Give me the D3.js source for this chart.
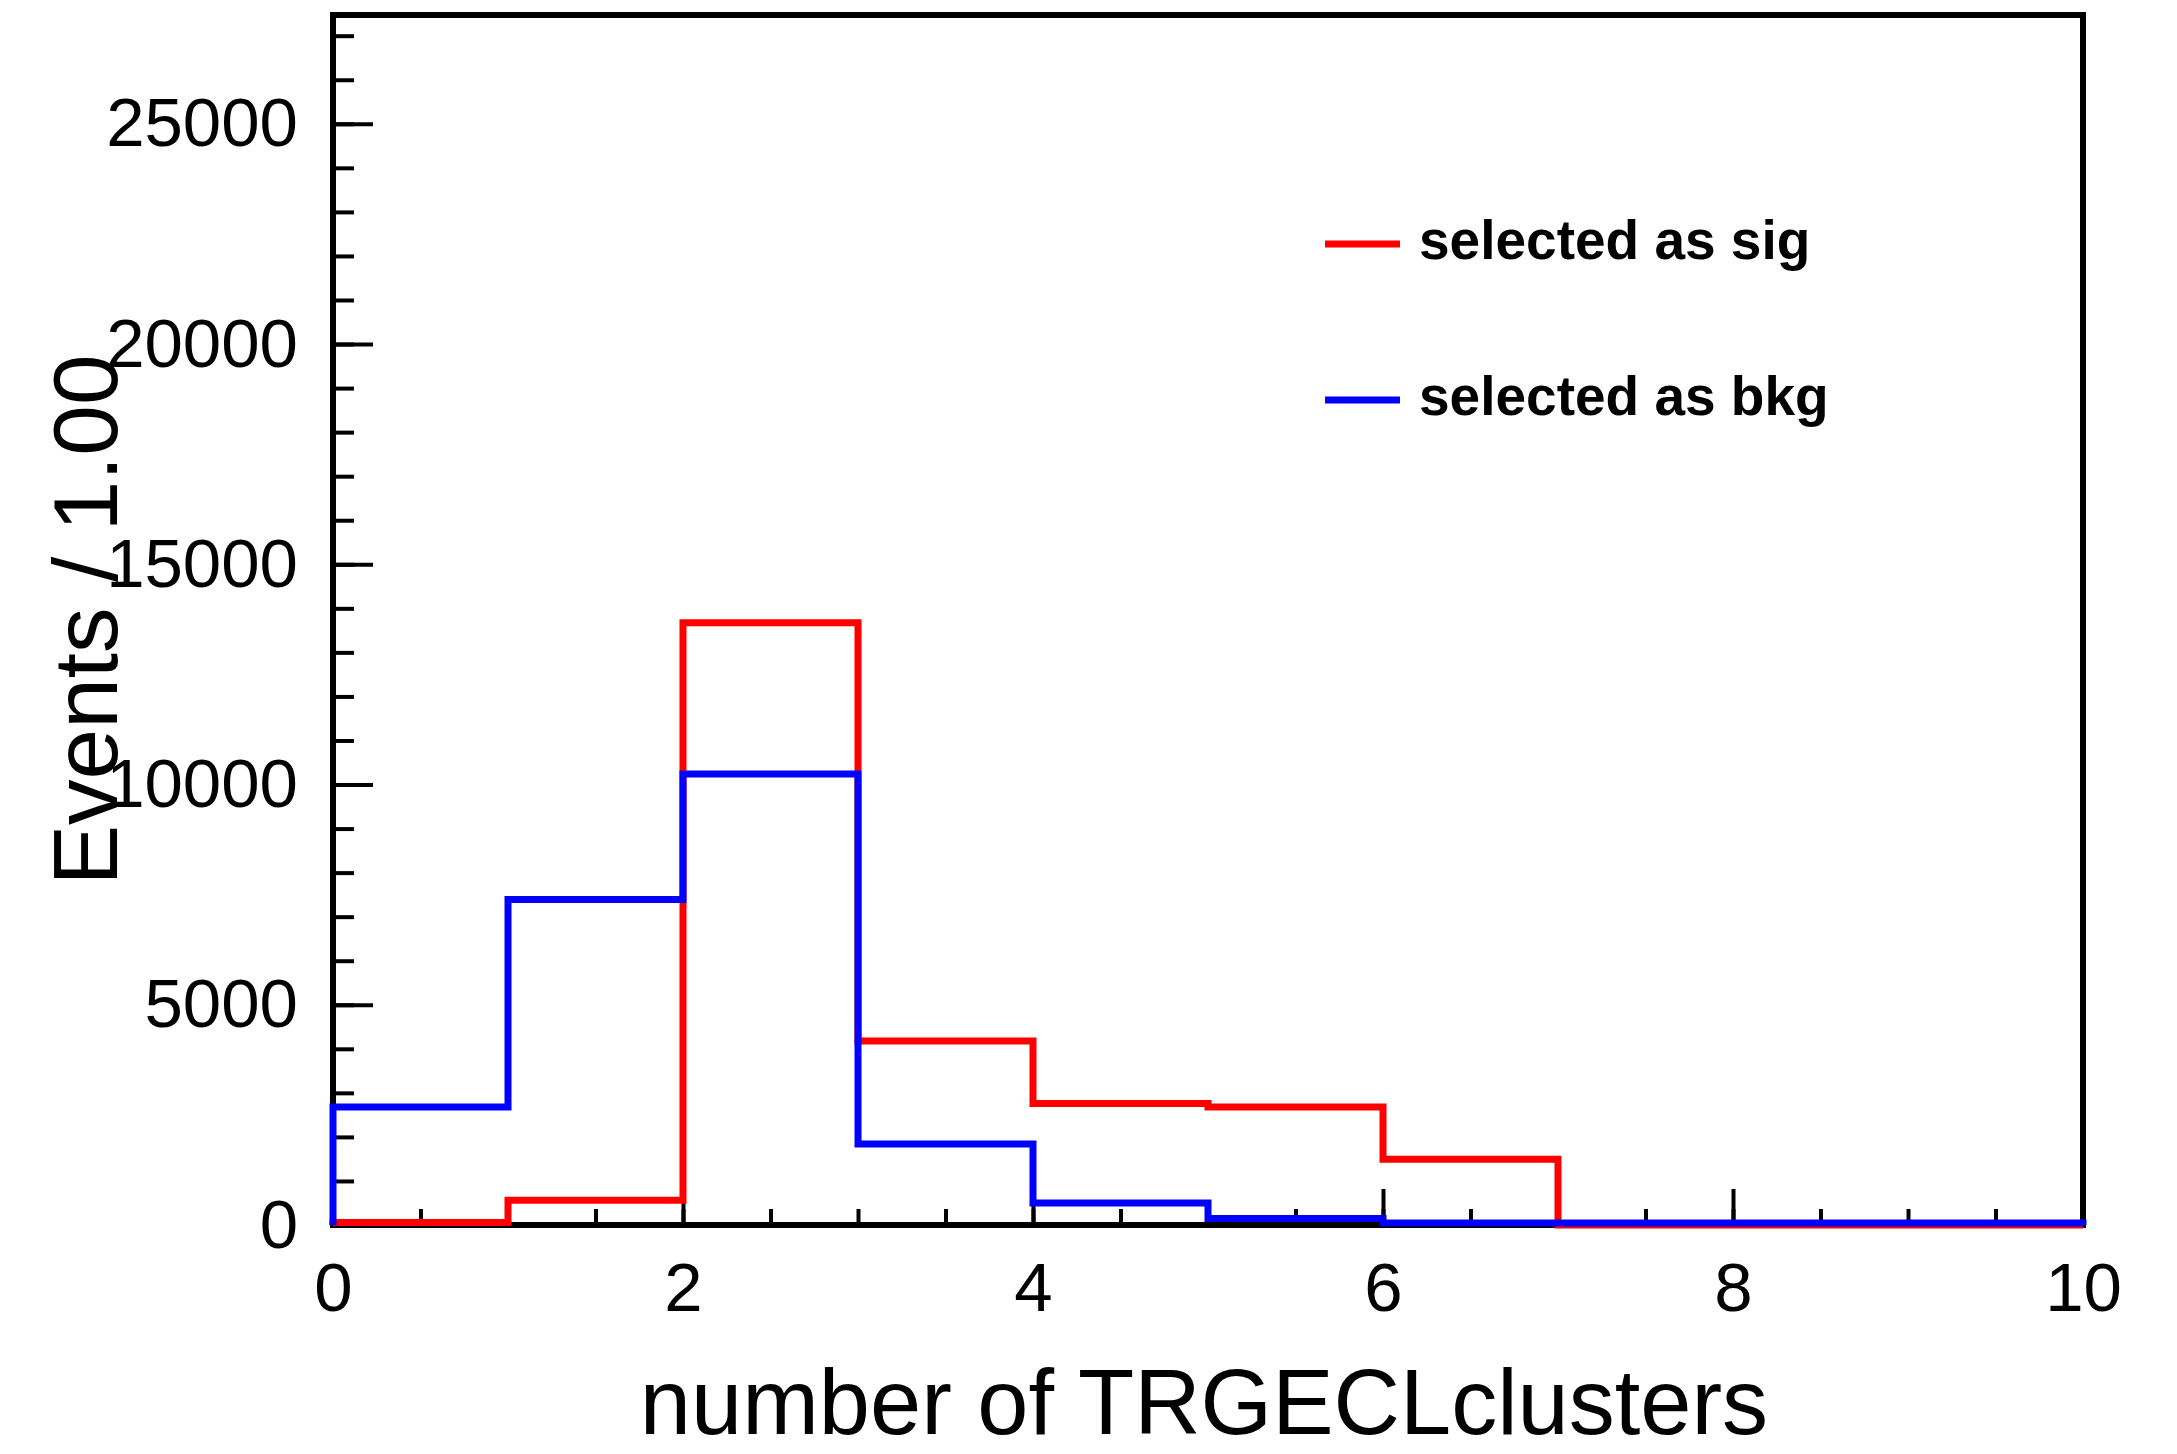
<!DOCTYPE html>
<html>
<head>
<meta charset="utf-8">
<script src="https://cdn.jsdelivr.net/npm/d3@7"></script>
<style>
  html, body { margin: 0; padding: 0; background: #fff; }
  svg { display: block; }
  text { font-family: "Liberation Sans", Arial, Helvetica, sans-serif; }
</style>
</head>
<body>
<svg id="chart" width="2177" height="1454"></svg>
<script>
// Bin edges of the histogram (unit-wide bins from 0 to 10)
const binEdges = [0, 1, 2, 3, 4, 5, 6, 7, 8, 9, 10];
// Events per bin, for each selection
const sigCounts = [55, 560, 13670, 4180, 2760, 2680, 1490, 0, 0, 0];
const bkgCounts = [2680, 7390, 10240, 1840, 500, 150, 45, 45, 45, 45];
// Axis ticks
const xMajorTicks = [0, 2, 4, 6, 8, 10];
const xMinorTicks = d3.range(0, 10.01, 0.5);
const yMajorTicks = [0, 5000, 10000, 15000, 20000, 25000];
const yMinorTicks = d3.range(0, 27001, 1000);
const legendLabels = ["selected as sig", "selected as bkg"];
const seriesColors = ["#ff0000", "#0000ff"];

const svg = d3.select("#chart");
const W = 2177, H = 1454;
const plot = { left: 333, right: 2083, top: 15, bottom: 1225 };

svg.append("rect").attr("width", W).attr("height", H).attr("fill", "#fff");

const x = d3.scaleLinear().domain([0, 10]).range([plot.left, plot.right]);
const y = d3.scaleLinear().domain([0, 27470]).range([plot.bottom, plot.top]);

// Minor ticks (inside the frame)
const xMinor = svg.append("g")
  .attr("transform", `translate(0,${plot.bottom})`)
  .call(d3.axisBottom(x).tickValues(xMinorTicks).tickSize(-16).tickFormat(""));
const yMinor = svg.append("g")
  .attr("transform", `translate(${plot.left},0)`)
  .call(d3.axisLeft(y).tickValues(yMinorTicks).tickSize(-21).tickFormat(""));

// Major ticks with labels
const xAxis = svg.append("g")
  .attr("transform", `translate(0,${plot.bottom})`)
  .call(d3.axisBottom(x).tickValues(xMajorTicks).tickSize(-36).tickPadding(37)
        .tickFormat(d3.format("d")));
const yAxis = svg.append("g")
  .attr("transform", `translate(${plot.left},0)`)
  .call(d3.axisLeft(y).tickValues(yMajorTicks).tickSize(-40).tickPadding(35)
        .tickFormat(d3.format("d")));

[xMinor, yMinor, xAxis, yAxis].forEach(g => {
  g.select(".domain").remove();
  g.selectAll(".tick line").attr("stroke", "#000").attr("stroke-width", 4);
});
[xAxis, yAxis].forEach(g => {
  g.selectAll(".tick text")
    .attr("fill", "#000")
    .style("font-size", "69px")
    .style("font-family", "'Liberation Sans', Arial, Helvetica, sans-serif");
});

// Frame
svg.append("rect")
  .attr("x", plot.left).attr("y", plot.top)
  .attr("width", plot.right - plot.left).attr("height", plot.bottom - plot.top)
  .attr("fill", "none").attr("stroke", "#000").attr("stroke-width", 6);

// Step outlines of the two histograms
const stepLine = d3.line()
  .x(d => x(d[0])).y(d => y(d[1]))
  .curve(d3.curveStepAfter);

function outline(counts) {
  const pts = [[binEdges[0], 0]];
  counts.forEach((c, i) => pts.push([binEdges[i], c]));
  pts.push([binEdges[binEdges.length - 1], 0]);
  return pts;
}

[sigCounts, bkgCounts].forEach((counts, i) => {
  svg.append("path")
    .datum(outline(counts))
    .attr("d", stepLine)
    .attr("fill", "none")
    .attr("stroke", seriesColors[i])
    .attr("stroke-width", 7)
    .attr("stroke-linejoin", "miter");
});

// Legend
const legendY = [244, 400];
legendLabels.forEach((label, i) => {
  svg.append("line")
    .attr("x1", 1325).attr("x2", 1400)
    .attr("y1", legendY[i]).attr("y2", legendY[i])
    .attr("stroke", seriesColors[i]).attr("stroke-width", 7);
  svg.append("text")
    .attr("x", 1419).attr("y", legendY[i] + 15)
    .attr("font-size", 55).attr("font-weight", "bold")
    .attr("fill", "#000")
    .text(label);
});

// Axis titles
svg.append("text")
  .attr("x", (plot.left + plot.right) / 2 - 4).attr("y", 1434)
  .attr("text-anchor", "middle").attr("font-size", 92).attr("fill", "#000")
  .text("number of TRGECLclusters");

svg.append("text")
  .attr("transform", `translate(117,${(plot.top + plot.bottom) / 2}) rotate(-90)`)
  .attr("text-anchor", "middle").attr("font-size", 91).attr("fill", "#000")
  .text("Events / 1.00");
</script>
</body>
</html>
